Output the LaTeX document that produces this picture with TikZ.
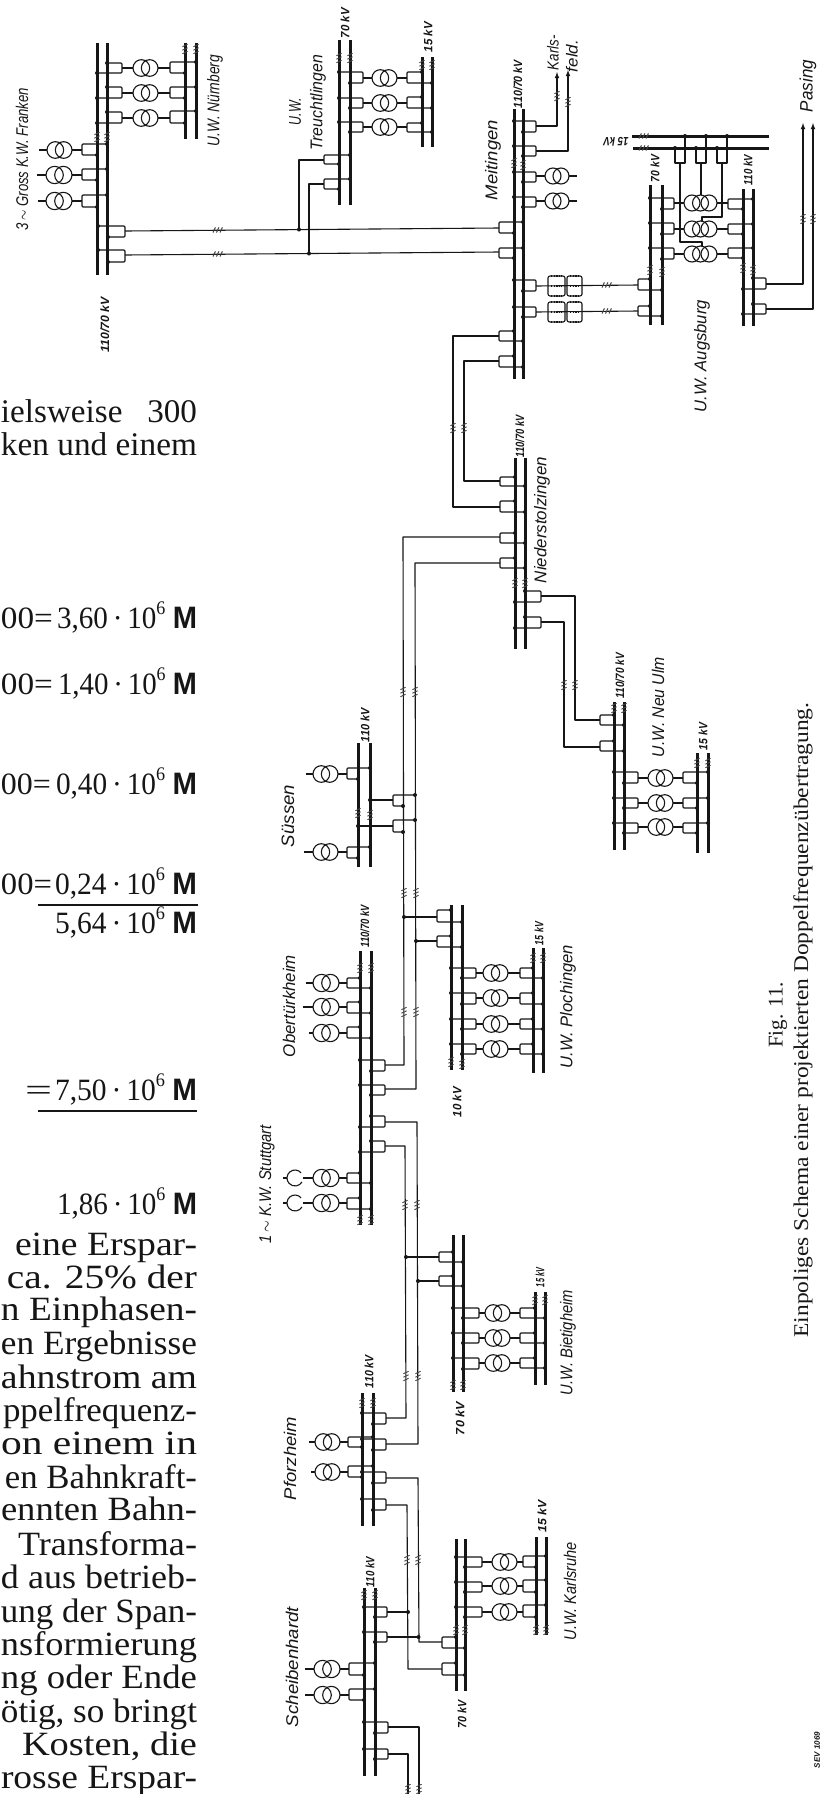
\documentclass[tikz,border=0pt]{standalone}
\usepackage{graphicx}
\usepackage{fontspec}
\setmainfont{Liberation Serif}
\newfontfamily\labfont{Liberation Sans}
\definecolor{ink}{HTML}{161616}
\tikzset{
  wire/.style={draw=ink,line width=1.1pt,line join=round},
  busline/.style={draw=ink,line width=3pt},
  tick/.style={draw=ink!80,line width=0.9pt},
  coilrow/.style={draw=ink,line width=1.2pt,dash pattern=on 1.4pt off 1.2pt},
  txt/.style={inner sep=0pt,outer sep=0pt,text=ink,anchor=base west},
  lab/.style={inner sep=0pt,outer sep=0pt,text=ink,rotate=90}
}
\newcount\nodecnt
\newcommand\busv[3]{\draw[busline] (#1,#2) -- (#1,#3);}
\newcommand\dt[2]{\fill[ink] (#1,#2) circle (2pt);}
% box: side, ytop, ybot, xtop, xbot
\newcommand\bx[5]{\draw[wire,rounded corners=1pt] (#4,#2) -- (#1,#2) -- (#1,#3) -- (#5,#3);\dt{#4}{#2}\dt{#5}{#3}}
% transformer: stubL, xL, xR, stubR, y
\newcommand\tf[5]{\draw[wire] (#1,#5) -- (#2,#5) (#3,#5) -- (#4,#5);
  \draw[wire] ({#2+(#3-#2)/3},#5) circle ({(#3-#2)/3*1pt});
  \draw[wire] ({#3-(#3-#2)/3},#5) circle ({(#3-#2)/3*1pt});}
\newcommand\tftri[5]{\draw[wire] (#1,#5) -- (#2,#5) (#3,#5) -- (#4,#5);
  \draw[wire] ({#2+8},#5) circle (8pt); \draw[wire] ({(#2+#3)/2},#5) circle (8pt); \draw[wire] ({#3-8},#5) circle (8pt);}
\newcommand\brkv[2]{\foreach \o in {-3.5,0,3.5}{\draw[tick] ({#1-2.6},{#2+\o+1.2}) -- ({#1+2.6},{#2+\o-1.2});}}
\newcommand\brkh[2]{\foreach \o in {-5,-1.5,2}{\draw[tick,line width=1pt] ({#1+\o},{#2+2.6}) -- ({#1+\o+2.4},{#2-2.6});}}
\newcommand\coil[4]{\draw[wire,rounded corners=2pt] (#1,#3) rectangle (#2,#4);
  \draw[coilrow] ({#1+3},#3) -- ({#2-3},#3) ({#1+3},{(#3+#4)/2}) -- ({#2-3},{(#3+#4)/2}) ({#1+3},#4) -- ({#2-3},#4);}
% label: x, y1, y2, font size, text
\newcommand\lbl[5]{\global\advance\nodecnt by 1
  \pgfmathsetlengthmacro\lblw{(#3-#2)*1pt}
  \node[lab] (lab\the\nodecnt) at (#1,{(#2+#3)/2}) {\labfont\itshape\fontsize{#4}{#4}\selectfont\resizebox{\lblw}{\height}{#5}};}
\newcommand\lblb[5]{\global\advance\nodecnt by 1
  \pgfmathsetlengthmacro\lblw{(#3-#2)*1pt}
  \node[lab] (lab\the\nodecnt) at (#1,{(#2+#3)/2}) {\labfont\bfseries\itshape\fontsize{#4}{#4}\selectfont\resizebox{\lblw}{\height}{#5}};}
% text piece: x0, x1, baseline, font size, text
\newcommand\tw[5]{\global\advance\nodecnt by 1
  \pgfmathsetlengthmacro\lblw{(#2-#1)*1pt}
  \node[txt] (txt\the\nodecnt) at (#1,#3) {\fontsize{#4}{#4}\selectfont\resizebox{\lblw}{\height}{#5}};}
\newcommand\tl[4]{\tw{#1}{197}{#2}{#3}{#4}}
\newcommand\sx{\raisebox{0.42em}{\scalebox{0.62}{6}}}
\newcommand\MM{{\labfont\bfseries M}}
\begin{document}
\begin{tikzpicture}[x=1pt,y=-1pt]
\useasboundingbox (0,0) rectangle (824,1794);
\fill[white] (0,0) rectangle (824,1794);

%% ---- Franken / Nürnberg
\busv{97}{43}{275}\busv{107}{43}{275}
\busv{185}{43}{139}\busv{196}{43}{139}
\brkv{97}{137}\brkv{107}{137}\brkv{185}{49}\brkv{196}{49}
\bx{122}{63}{73}{107}{97}\tf{122}{133}{158}{170}{68}\bx{170}{62}{73}{196}{185}
\bx{122}{87}{98}{107}{97}\tf{122}{133}{158}{170}{93}\bx{170}{87}{98}{196}{185}
\bx{122}{112}{123}{107}{97}\tf{122}{133}{158}{170}{118}\bx{170}{111}{123}{196}{185}
\bx{82}{144}{155}{107}{97}\tf{39}{47}{72}{82}{150}
\bx{82}{169}{180}{107}{97}\tf{37}{46}{72}{82}{175}
\bx{82}{195}{207}{107}{97}\tf{38}{46}{72}{82}{201}
\bx{125}{226}{237}{98}{108}
\bx{125}{250}{262}{98}{108}
\coordinate (fr1) at (125,231);\coordinate (fr2) at (125,255);

%% ---- Treuchtlingen
\busv{339}{40}{205}\busv{350}{40}{205}
\busv{422}{57}{147}\busv{432}{57}{147}
\brkv{339}{58}\brkv{350}{58}\brkv{422}{65}\brkv{432}{65}
\bx{363}{72}{83}{339}{350}\tf{363}{372}{397}{407}{78}\bx{407}{72}{83}{422}{432}
\bx{363}{98}{108}{339}{350}\tf{363}{372}{397}{407}{103}\bx{407}{97}{108}{422}{432}
\bx{363}{122}{132}{339}{350}\tf{363}{372}{397}{407}{127}\bx{407}{123}{132}{422}{432}
\bx{324}{155}{164}{350}{339}\bx{324}{179}{189}{350}{339}
\coordinate (tr1) at (324,160);\coordinate (tr2) at (324,184);

%% ---- Meitingen
\busv{514}{109}{379}\busv{523}{109}{379}
\brkv{514}{163}\brkv{523}{165}
\bx{536}{121}{132}{514}{523}\bx{536}{146}{156}{514}{523}
\bx{536}{172}{182}{514}{523}\tf{536}{545}{569}{577}{176}
\bx{536}{197}{207}{514}{523}\tf{536}{545}{569}{577}{201}
\bx{499}{222}{233}{523}{514}\bx{499}{248}{258}{523}{514}
\coordinate (me1) at (499,228);\coordinate (me2) at (499,252);
\draw[wire] (fr1) -- (me1) (fr2) -- (me2);
\brkh{218}{230}\brkh{218}{254}
\dt{299}{229.5}\dt{309}{253.5}
\draw[wire] (299,229.5) -- (299,160) -- (tr1) (309,253.5) -- (309,184) -- (tr2);
\bx{536}{280}{291}{514}{523}\bx{536}{307}{317}{514}{523}
\coil{548}{565}{276}{296}\coil{567}{582}{276}{296}
\coil{548}{565}{302}{322}\coil{567}{582}{302}{322}
\coordinate (kf1) at (536,126);\coordinate (kf2) at (536,151);
\draw[wire,-latex] (kf1) -- (557,126) -- (557,72);
\draw[wire,-latex] (kf2) -- (568,151) -- (568,70);
\brkv{557}{96}\brkv{568}{102}

%% ---- Augsburg
\busv{650}{185}{325}\busv{662}{185}{325}
\busv{743}{189}{326}\busv{753}{189}{326}
\brkv{650}{270}\brkv{662}{272}\brkv{743}{268}\brkv{753}{270}
\bx{638}{279}{290}{650}{662}\bx{638}{306}{316}{650}{662}
\coordinate (au1) at (638,285);\coordinate (au2) at (638,311);
\draw[wire] (536,286) -- (au1) (536,312) -- (au2);
\brkh{607}{285}\brkh{607}{311}
\bx{674}{198}{209}{650}{662}\bx{728}{199}{209}{753}{743}\tftri{674}{684}{717}{728}{203}
\bx{674}{223}{234}{650}{662}\bx{728}{224}{234}{753}{743}\tftri{674}{684}{717}{728}{229}
\bx{674}{248}{259}{650}{662}\bx{728}{248}{258}{753}{743}\tftri{674}{684}{717}{728}{254}
\bx{766}{278}{289}{753}{743}\bx{766}{304}{314}{753}{743}
\draw[wire,-latex] (766,284) -- (803,284) -- (803,123);
\draw[wire,-latex] (766,309) -- (813,309) -- (813,123);
\brkv{803}{219}\brkv{813}{219}
\draw[busline] (632,136) -- (769,136) (633,148) -- (769,148);
\brkh{644}{136}\brkh{644}{148}
\draw[wire] (675,148) -- (675,163) -- (685,163) -- (685,136);\dt{675}{148}\dt{685}{136}
\draw[wire] (696,148) -- (696,163) -- (706,163) -- (706,136);\dt{696}{148}\dt{706}{136}
\draw[wire] (717,148) -- (717,163) -- (727,163) -- (727,136);\dt{717}{148}\dt{727}{136}
\draw[wire] (701,163) -- (701,195);
\draw[wire] (722,163) -- (722,217) -- (702,217) -- (702,221);
\draw[wire] (680,163) -- (680,242) -- (702,242) -- (702,246);

%% ---- Niederstolzingen
\busv{515}{458}{649}\busv{525}{458}{649}
\brkv{515}{583}\brkv{525}{583}
\bx{500}{477}{486}{515}{525}\bx{500}{501}{512}{515}{525}
\bx{500}{533}{543}{515}{525}\bx{500}{558}{568}{515}{525}
\coordinate (ni1) at (500,481);\coordinate (ni2) at (500,507);
\coordinate (ni3) at (500,537);\coordinate (ni4) at (500,563);
\bx{499}{331}{341}{514}{523}\bx{499}{356}{367}{514}{523}
\draw[wire] (499,336) -- (453,336) -- (453,507) -- (ni2);
\draw[wire] (499,361) -- (464,361) -- (464,481) -- (ni1);
\brkv{453}{428}\brkv{464}{428}
\bx{541}{591}{602}{525}{515}\bx{541}{617}{628}{525}{515}

%% ---- Neu Ulm
\busv{614}{702}{850}\busv{624}{702}{850}
\busv{697}{753}{853}\busv{708}{753}{853}
\brkv{614}{708}\brkv{624}{708}\brkv{697}{763}\brkv{708}{763}
\bx{600}{715}{725}{614}{624}\bx{600}{741}{751}{614}{624}
\draw[wire] (541,596) -- (575,596) -- (575,720) -- (600,720);
\draw[wire] (541,622) -- (564,622) -- (564,747) -- (600,747);
\brkv{564}{685}\brkv{575}{685}
\bx{638}{772}{783}{614}{624}\tf{638}{648}{673}{683}{778}\bx{683}{772}{783}{708}{697}
\bx{638}{798}{808}{614}{624}\tf{638}{648}{673}{683}{803}\bx{683}{798}{808}{708}{697}
\bx{638}{823}{833}{614}{624}\tf{638}{648}{673}{683}{827}\bx{683}{823}{833}{708}{697}

%% ---- Süssen
\busv{358}{743}{867}\busv{370}{743}{867}
\brkv{358}{813}\brkv{370}{815}
\bx{347}{768}{779}{370}{358}\tf{306}{313}{338}{347}{774}
\bx{347}{847}{858}{370}{358}\tf{304}{313}{338}{347}{852}
\bx{393}{795}{806}{415}{403}\bx{393}{820}{832}{415}{403}
\draw[wire] (393,800) -- (370,800);\dt{370}{800}
\draw[wire] (393,826) -- (358,826);\dt{358}{826}

%% ---- Plochingen
\busv{451}{905}{1070}\busv{462}{905}{1070}
\busv{533}{948}{1073}\busv{543}{948}{1073}
\brkv{451}{1062}\brkv{462}{1064}\brkv{533}{958}\brkv{543}{958}
\bx{437}{910}{922}{451}{462}\bx{437}{936}{947}{451}{462}
\draw[wire] (437,917) -- (404,917);\dt{404}{917}
\draw[wire] (437,941) -- (416,941);\dt{416}{941}
\bx{476}{968}{978}{451}{462}\tf{476}{483}{508}{520}{973}\bx{520}{968}{978}{533}{543}
\bx{476}{993}{1004}{451}{462}\tf{476}{483}{508}{520}{998}\bx{520}{993}{1004}{533}{543}
\bx{476}{1019}{1029}{451}{462}\tf{476}{483}{508}{520}{1024}\bx{520}{1019}{1029}{533}{543}
\bx{476}{1044}{1054}{451}{462}\tf{476}{483}{508}{520}{1049}\bx{520}{1044}{1054}{533}{543}

%% ---- Obertürkheim / Stuttgart
\busv{360}{951}{1225}\busv{371}{951}{1225}
\brkv{360}{968}\brkv{371}{968}\brkv{360}{1220}\brkv{371}{1220}
\bx{347}{978}{988}{360}{371}\tf{306}{313}{339}{347}{983}
\bx{347}{1002}{1013}{360}{371}\tf{303}{313}{339}{347}{1007}
\bx{347}{1027}{1038}{360}{371}\tf{309}{313}{339}{347}{1033}
\bx{385}{1060}{1071}{360}{371}\bx{385}{1085}{1095}{360}{371}
\bx{385}{1116}{1127}{371}{360}\bx{385}{1141}{1152}{371}{360}
\coordinate (ob1) at (385,1065);\coordinate (ob2) at (385,1089);
\coordinate (ob3) at (385,1122);\coordinate (ob4) at (385,1146);
\bx{347}{1173}{1183}{360}{371}\tf{303}{313}{339}{347}{1178}
\bx{347}{1198}{1209}{360}{371}\tf{303}{313}{339}{347}{1203}
\draw[wire] (295,1178) ++(40:8pt) arc (40:330:8pt);
\draw[wire] (295,1203) ++(40:8pt) arc (40:330:8pt);
\draw[wire] (283,1178) -- (287,1178) (283,1203) -- (287,1203);
\draw[wire] (ni3) -- (403,537) -- (404,1065) -- (ob1);
\draw[wire] (ni4) -- (415,563) -- (416,1089) -- (ob2);
\brkv{403}{692}\brkv{415}{692}\brkv{404}{893}\brkv{416}{893}\brkv{404}{1012}\brkv{416}{1012}

%% ---- Bietigheim
\busv{453}{1235}{1392}\busv{463}{1235}{1392}
\busv{535}{1292}{1385}\busv{545}{1292}{1385}
\brkv{453}{1385}\brkv{463}{1385}\brkv{535}{1300}\brkv{545}{1300}
\bx{439}{1252}{1262}{453}{463}\bx{439}{1276}{1286}{453}{463}
\draw[wire] (439,1257) -- (406,1257);\dt{406}{1257}
\draw[wire] (439,1281) -- (418,1281);\dt{418}{1281}
\bx{479}{1308}{1318}{453}{463}\tf{479}{485}{510}{520}{1313}\bx{520}{1308}{1318}{535}{545}
\bx{479}{1333}{1343}{453}{463}\tf{479}{485}{510}{520}{1338}\bx{520}{1333}{1343}{535}{545}
\bx{479}{1358}{1369}{453}{463}\tf{479}{485}{510}{520}{1363}\bx{520}{1358}{1368}{535}{545}

%% ---- Pforzheim
\busv{362}{1393}{1526}\busv{373}{1393}{1526}
\brkv{362}{1403}\brkv{373}{1403}
\bx{386}{1413}{1424}{362}{373}\bx{386}{1439}{1450}{362}{373}
\bx{386}{1472}{1483}{362}{373}\bx{386}{1499}{1510}{362}{373}
\bx{348}{1437}{1447}{373}{362}\tf{309}{315}{340}{348}{1442}
\bx{348}{1466}{1477}{373}{362}\tf{311}{315}{340}{348}{1472}
\draw[wire] (ob4) -- (405,1146) -- (406,1418) -- (386,1418);
\draw[wire] (ob3) -- (417,1122) -- (418,1444) -- (386,1444);
\brkv{405}{1205}\brkv{417}{1205}\brkv{406}{1376}\brkv{418}{1376}

%% ---- Karlsruhe
\busv{456}{1539}{1691}\busv{465}{1539}{1691}
\busv{536}{1537}{1635}\busv{546}{1537}{1635}
\brkv{456}{1630}\brkv{465}{1630}\brkv{536}{1630}\brkv{546}{1630}
\bx{442}{1637}{1648}{456}{465}\bx{442}{1663}{1675}{456}{465}
\draw[wire] (386,1478) -- (418,1478) -- (419,1642) -- (442,1642);
\draw[wire] (386,1505) -- (407,1505) -- (408,1669) -- (442,1669);
\brkv{407}{1560}\brkv{418}{1560}
\bx{482}{1557}{1567}{456}{465}\tf{482}{492}{517}{523}{1562}\bx{523}{1556}{1567}{546}{536}
\bx{482}{1582}{1592}{456}{465}\tf{482}{492}{517}{523}{1586}\bx{523}{1580}{1592}{546}{536}
\bx{482}{1607}{1617}{456}{465}\tf{482}{492}{517}{523}{1612}\bx{523}{1605}{1617}{546}{536}

%% ---- Scheibenhardt
\busv{364}{1588}{1776}\busv{375}{1588}{1776}
\brkv{364}{1595}\brkv{375}{1595}
\bx{387}{1607}{1617}{364}{375}\bx{387}{1632}{1642}{364}{375}
\draw[wire] (387,1612) -- (408,1612);\dt{408}{1612}
\draw[wire] (387,1637) -- (418.5,1637);\dt{418.5}{1637}
\bx{349}{1663}{1675}{375}{364}\tf{305}{314}{340}{349}{1669}
\bx{349}{1689}{1700}{375}{364}\tf{305}{314}{340}{349}{1695}
\bx{388}{1722}{1733}{364}{375}\bx{388}{1749}{1759}{364}{375}
\draw[wire] (388,1727) -- (419,1727) -- (419,1794);
\draw[wire] (388,1754) -- (408,1754) -- (408,1794);
\brkv{408}{1789}\brkv{419}{1789}

%% ---- Diagram labels
\lbl{22}{88}{230}{17}{3\,$\sim$ Gross K.W. Franken}
\lbl{215}{55}{146}{17}{U.W. Nürnberg}
\lbl{295}{98}{125}{17}{U.W.}
\lbl{318}{55}{150}{17}{Treuchtlingen}
\lblb{345}{8}{38}{12}{70 kV}
\lblb{105}{297}{352}{12}{110/70 kV}
\lblb{428}{22}{52}{12}{15 kV}
\lbl{493}{120}{200}{17}{Meitingen}
\lblb{518}{60}{108}{12}{110/70 kV}
\lbl{553}{35}{70}{16}{Karls-}
\lbl{572}{40}{72}{16}{feld.}
\lbl{808}{60}{112}{18}{Pasing}
\node[inner sep=0pt,rotate=180,text=ink] (kv15a) at (616,142) {\labfont\bfseries\itshape\fontsize{12}{12}\selectfont\resizebox{25pt}{\height}{15 kV}};
\lblb{655}{155}{182}{12}{70 kV}
\lblb{748}{155}{185}{12}{110 kV}
\lbl{702}{300}{412}{17}{U.W. Augsburg}
\lbl{542}{457}{583}{17}{Niederstolzingen}
\lblb{520}{415}{457}{12}{110/70 kV}
\lblb{620}{653}{698}{12}{110/70 kV}
\lbl{658}{657}{757}{17}{U.W. Neu Ulm}
\lblb{703}{723}{750}{12}{15 kV}
\lbl{288}{785}{847}{18}{Süssen}
\lblb{365}{708}{742}{12}{110 kV}
\lbl{289}{955}{1057}{17}{Obertürkheim}
\lblb{365}{905}{947}{12}{110/70 kV}
\lbl{267}{1125}{1243}{17}{1\,$\sim$ K.W. Stuttgart}
\lblb{539}{922}{945}{12}{15 kV}
\lbl{568}{945}{1068}{17}{U.W. Plochingen}
\lblb{457}{1087}{1117}{12}{10 kV}
\lblb{540}{1268}{1287}{12}{15 kV}
\lbl{568}{1290}{1395}{17}{U.W. Bietigheim}
\lblb{460}{1402}{1435}{12}{70 kV}
\lbl{290}{1417}{1500}{17}{Pforzheim}
\lblb{369}{1355}{1388}{12}{110 kV}
\lbl{292}{1607}{1727}{17}{Scheibenhardt}
\lblb{370}{1557}{1587}{12}{110 kV}
\lblb{542}{1500}{1532}{12}{15 kV}
\lbl{570}{1542}{1640}{17}{U.W. Karlsruhe}
\lblb{462}{1700}{1728}{12}{70 kV}
\lblb{817}{1732}{1768}{8}{SEV 1069}

%% ---- Caption
\node[inner sep=0pt,rotate=90,text=ink] (figno) at (778,1015) {\fontsize{21}{21}\selectfont Fig. 11.};
\node[inner sep=0pt,rotate=90,text=ink] (figcap) at (803,1020) {\fontsize{21}{21}\selectfont\resizebox{635pt}{\height}{Einpoliges Schema einer projektierten Doppelfrequenzübertragung.}};

%% ---- Body text (as printed, cut at the left edge of the scan)
\tl{1}{422}{33}{ielsweise\ \ \ 300}
\tl{1}{455}{33}{ken\ und\ einem}
\tw{1}{53}{628}{31}{00=}\tw{57}{197}{628}{31}{3,60\,·\,10\sx\ \MM}
\tw{1}{53}{694}{31}{00=}\tw{58}{197}{694}{31}{1,40\,·\,10\sx\ \MM}
\tw{1}{51}{794}{31}{00=}\tw{56}{197}{794}{31}{0,40\,·\,10\sx\ \MM}
\tw{1}{52}{894}{31}{00=}\tw{55}{197}{894}{31}{0,24\,·\,10\sx\ \MM}
\draw[wire] (38,905) -- (198,905);
\tl{55}{933}{31}{5,64\,·\,10\sx\ \MM}
\tw{25}{52}{1100}{31}{=}\tw{55}{197}{1100}{31}{7,50\,·\,10\sx\ \MM}
\draw[ink,line width=1.6pt] (38,1111) -- (197,1111);
\tl{57}{1214}{31}{1,86\,·\,10\sx\ \MM}
\tl{15}{1255}{34}{eine Erspar-}
\tl{7}{1288}{34}{ca. 25\% der}
\tl{1}{1320}{34}{n Einphasen-}
\tl{1}{1354}{34}{en Ergebnisse}
\tl{1}{1388}{34}{ahnstrom am}
\tl{3}{1421}{34}{ppelfrequenz-}
\tl{1}{1454}{34}{on einem in}
\tl{5}{1488}{34}{en Bahnkraft-}
\tl{1}{1520}{34}{ennten Bahn-}
\tl{18}{1555}{34}{Transforma-}
\tl{1}{1588}{34}{d aus betrieb-}
\tl{1}{1622}{34}{ung der Span-}
\tl{1}{1655}{34}{nsformierung}
\tl{1}{1688}{34}{ng oder Ende}
\tl{1}{1722}{34}{ötig, so bringt}
\tl{22}{1755}{34}{Kosten, die}
\tl{1}{1788}{34}{rosse Erspar-}
\end{tikzpicture}
\end{document}
